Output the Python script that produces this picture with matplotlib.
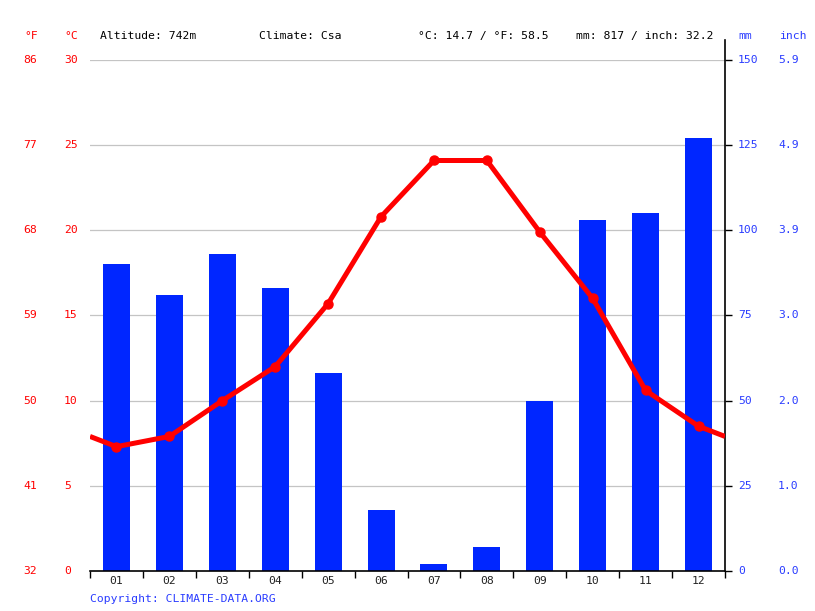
"""
Climate chart: monthly precipitation bars and mean temperature line.
"""

import numpy as np
import matplotlib.pyplot as plt
from matplotlib.lines import Line2D

months = ["01", "02", "03", "04", "05", "06", "07", "08", "09", "10", "11", "12"]
precip_mm = [90, 81, 93, 83, 58, 18, 2, 7, 50, 103, 105, 127]
temp_c = [7.3, 7.9, 10.0, 12.0, 15.7, 20.8, 24.1, 24.1, 19.9, 16.0, 10.6, 8.5]
celsius_ticks = [0, 5, 10, 15, 20, 25, 30]
mm_ticks = [0, 25, 50, 75, 100, 125, 150]

altitude = "742m"
climate = "Csa"

RED = "#ff0000"
BLUE = "#0026ff"
LABEL_BLUE = "#2a3cff"
FONT = "DejaVu Sans Mono"
FS = 8.2


def main():
    fig = plt.figure(figsize=(8.15, 6.11), dpi=100)
    W, H = 815, 611
    x0, x1, y0, y1 = 90, 725, 60, 571
    ax = fig.add_axes([x0 / W, (H - y1) / H, (x1 - x0) / W, (y1 - y0) / H])
    ax2 = ax.twinx()

    n = len(months)
    centers = np.arange(n) + 0.5

    # precipitation bars (secondary axis, drawn beneath the line)
    ax2.bar(centers, precip_mm, width=0.51, color=BLUE, zorder=2)
    ax2.set_ylim(0, 150)
    ax2.set_zorder(1)
    ax.set_zorder(2)
    ax.patch.set_visible(False)

    # temperature line, wrapped at the year ends
    edge = (temp_c[0] + temp_c[-1]) / 2
    xs = np.concatenate([[0], centers, [n]])
    ys = [edge] + temp_c + [edge]
    ax.plot(xs, ys, color=RED, linewidth=3.6, solid_capstyle="butt", zorder=3)
    ax.plot(centers, temp_c, "o", color=RED, markersize=6.5, zorder=4)
    ax.set_xlim(0, n)
    ax.set_ylim(0, 30)

    # grid lines
    for c in celsius_ticks[1:]:
        ax2.axhline(c * 5, color="#c4c4c4", linewidth=0.9, zorder=1)

    for a in (ax, ax2):
        for s in a.spines.values():
            s.set_visible(False)
        a.set_yticks([])
        a.set_xticks([])

    # bottom axis with ticks at month boundaries
    ax.axhline(0, color="black", linewidth=1.2, zorder=5, clip_on=False)
    ax.set_xticks(np.arange(n + 1))
    ax.set_xticklabels([])
    ax.tick_params(axis="x", length=5, width=1, color="black", direction="out")
    for xc, m in zip(centers, months):
        ax.text(xc, -0.6, m, ha="center", va="center", family=FONT, fontsize=FS,
                color="#222222")

    # right axis line with ticks
    fig.add_artist(Line2D([x1 / W, x1 / W], [(H - 40) / H, (H - y1) / H],
                          color="black", linewidth=1.2))
    ax2.set_yticks(mm_ticks)
    ax2.set_yticklabels([])
    ax2.tick_params(axis="y", right=True, length=5, width=1, color="black")

    # left labels (fahrenheit and celsius)
    for c in celsius_ticks:
        yf = (H - (y1 - (y1 - y0) * c / 30)) / H
        f = c * 9 / 5 + 32
        fig.text(23 / W, yf, f"{f:.0f}", color=RED, family=FONT, fontsize=FS,
                 ha="left", va="center")
        fig.text(64 / W, yf, f"{c}", color=RED, family=FONT, fontsize=FS,
                 ha="left", va="center")

    # right labels (mm and inch)
    for mm in mm_ticks:
        yf = (H - (y1 - (y1 - y0) * mm / 150)) / H
        fig.text(738 / W, yf, f"{mm}", color=LABEL_BLUE, family=FONT, fontsize=FS,
                 ha="left", va="center")
        fig.text(778 / W, yf, f"{mm / 25.4:.1f}", color=LABEL_BLUE, family=FONT,
                 fontsize=FS, ha="left", va="center")

    # header row
    yh = (H - 36) / H
    t_mean = np.mean(temp_c)
    p_sum = sum(precip_mm)
    fig.text(24 / W, yh, "°F", color=RED, family=FONT, fontsize=FS, va="center")
    fig.text(64 / W, yh, "°C", color=RED, family=FONT, fontsize=FS, va="center")
    fig.text(100 / W, yh, f"Altitude: {altitude}", family=FONT, fontsize=FS, va="center")
    fig.text(259 / W, yh, f"Climate: {climate}", family=FONT, fontsize=FS, va="center")
    fig.text(418 / W, yh, f"°C: {t_mean:.1f} / °F: {t_mean * 9 / 5 + 32:.1f}",
             family=FONT, fontsize=FS, va="center")
    fig.text(576 / W, yh, f"mm: {p_sum} / inch: {p_sum / 25.4:.1f}",
             family=FONT, fontsize=FS, va="center")
    fig.text(738 / W, yh, "mm", color=LABEL_BLUE, family=FONT, fontsize=FS, va="center")
    fig.text(779 / W, yh, "inch", color=LABEL_BLUE, family=FONT, fontsize=FS, va="center")

    fig.text(90 / W, (H - 599) / H, "Copyright: CLIMATE-DATA.ORG", color=LABEL_BLUE,
             family=FONT, fontsize=FS, va="center")

    fig.savefig("out.png", dpi=100)
    plt.close(fig)


if __name__ == "__main__":
    main()
